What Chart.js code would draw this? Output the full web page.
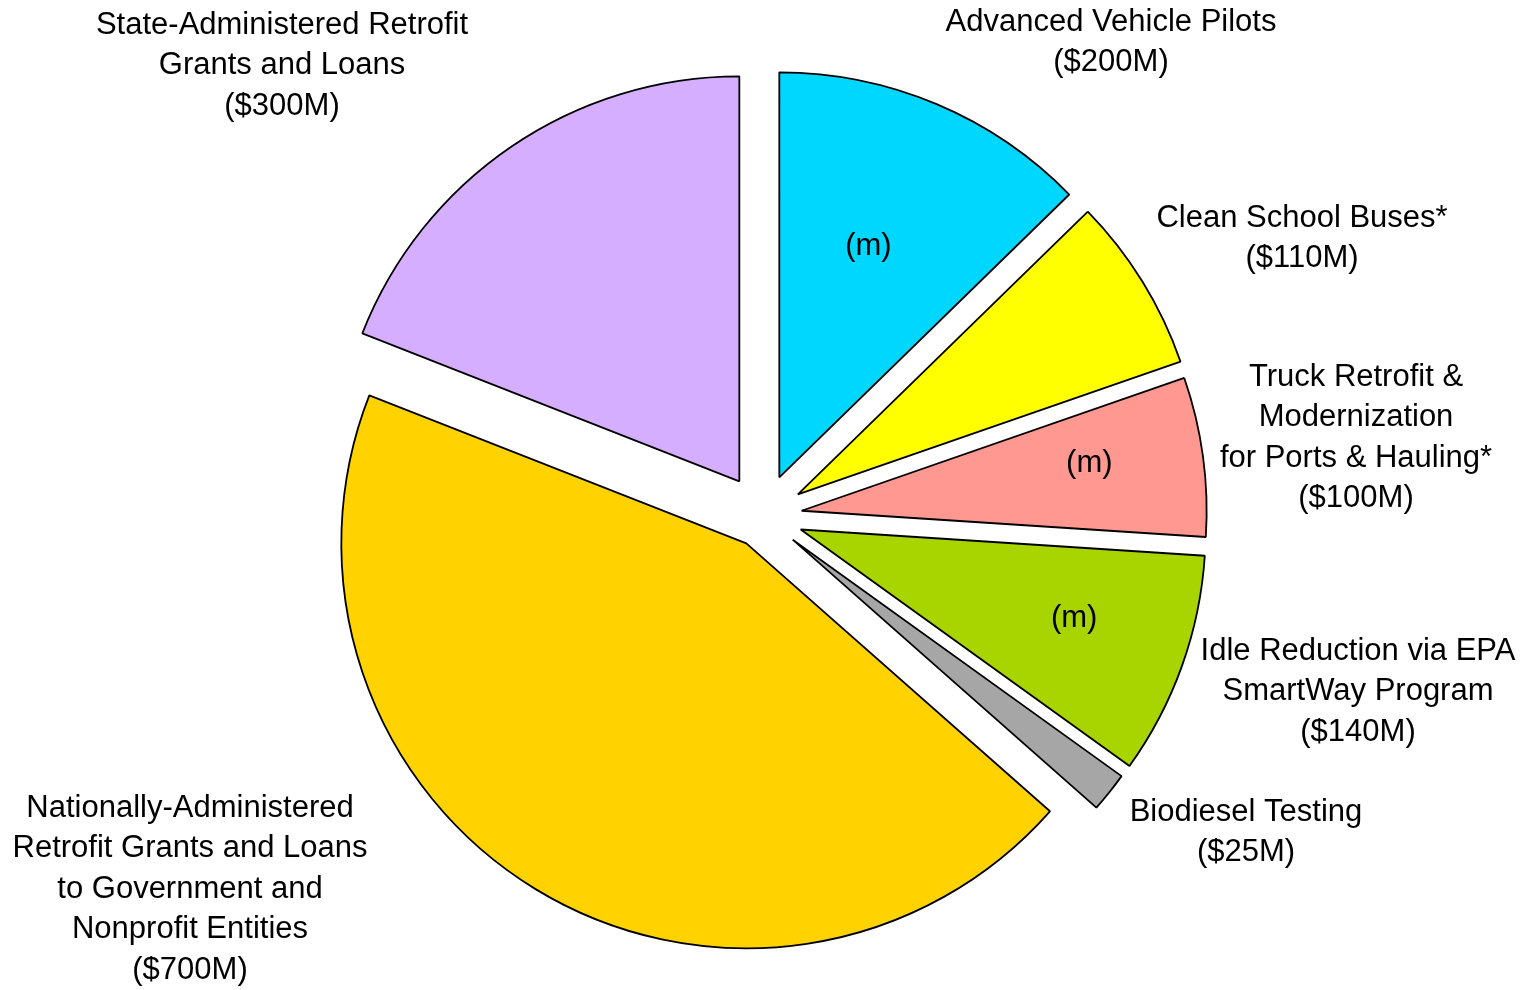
<!DOCTYPE html>
<html>
<head>
<meta charset="utf-8">
<title>Funding pie</title>
<script src="https://cdn.jsdelivr.net/npm/chart.js@4.4.1/dist/chart.umd.min.js"></script>
<style>
    html, body { margin: 0; padding: 0; background: #fff; }
    #wrap { width: 1530px; height: 990px; position: relative; }
</style>
</head>
<body>
<div id="wrap"><canvas id="myChart"></canvas></div>
<script>
// data
var categories = [
    ['Advanced Vehicle Pilots'],
    ['Clean School Buses*'],
    ['Truck Retrofit &', 'Modernization', 'for Ports & Hauling*'],
    ['Idle Reduction via EPA', 'SmartWay Program'],
    ['Biodiesel Testing'],
    ['Nationally-Administered', 'Retrofit Grants and Loans', 'to Government and', 'Nonprofit Entities'],
    ['State-Administered Retrofit', 'Grants and Loans']
];
var amounts = [200, 110, 100, 140, 25, 700, 300];   // $M
var markers = ['(m)', '', '(m)', '(m)', '', '', ''];

// styles
var colors = ['#00D7FF', '#FFFF00', '#FF9891', '#A8D400', '#A6A6A6', '#FFD200', '#D5AEFF'];
var explode = [42, 41, 39, 40, 38, 32, 42];
// label anchor (first line centre) relative to the pie centre
var labelOffsets = [[348, -494], [539, -298], [593, -139], [595, 135], [483, 296], [-573, 292], [-481, -491]];
// how far along the slice radius the "(m)" marks sit
var markerDepth = [0.61, 0, 0.72, 0.71, 0, 0, 0];

var FONT = '31px "Liberation Sans", Arial, sans-serif';
var LINE_H = 40.5;

var explodePlugin = {
    id: 'explode',
    afterDatasetsUpdate: function (chart) {
        var meta = chart.getDatasetMeta(0);
        meta.data.forEach(function (arc, i) {
            var mid = (arc.startAngle + arc.endAngle) / 2;
            arc.x += Math.cos(mid) * explode[i];
            arc.y += Math.sin(mid) * explode[i];
        });
    }
};

var labelPlugin = {
    id: 'sliceLabels',
    afterDraw: function (chart) {
        var ctx = chart.ctx;
        var area = chart.chartArea;
        var cx = (area.left + area.right) / 2;
        var cy = (area.top + area.bottom) / 2;
        var meta = chart.getDatasetMeta(0);
        ctx.save();
        ctx.font = FONT;
        ctx.fillStyle = '#000';
        ctx.textAlign = 'center';
        ctx.textBaseline = 'middle';
        categories.forEach(function (lines, i) {
            var all = lines.concat(['($' + amounts[i] + 'M)']);
            var x = cx + labelOffsets[i][0];
            var y = cy + labelOffsets[i][1];
            all.forEach(function (t, k) {
                ctx.fillText(t, x, y + k * LINE_H);
            });
            if (markers[i]) {
                var arc = meta.data[i];
                var mid = (arc.startAngle + arc.endAngle) / 2 - 0.03;
                var r = arc.outerRadius * markerDepth[i];
                ctx.fillText(markers[i], arc.x + Math.cos(mid) * r, arc.y + Math.sin(mid) * r);
            }
        });
        ctx.restore();
    }
};

document.addEventListener('DOMContentLoaded', function () {
    var ctx = document.getElementById('myChart').getContext('2d');
    var myChart = new Chart(ctx, {
        type: 'pie',
        data: {
            labels: categories.map(function (c) { return c.join(' '); }),
            datasets: [{
                data: amounts,
                backgroundColor: colors,
                borderColor: '#000000',
                borderWidth: 1.8
            }]
        },
        options: {
            responsive: true,
            maintainAspectRatio: false,
            animation: false,
            events: [],
            radius: 405,
            layout: {
                padding: { top: 42, right: 4, bottom: 0, left: 0 }
            },
            plugins: {
                legend: { display: false },
                tooltip: { enabled: false }
            }
        },
        plugins: [explodePlugin, labelPlugin]
    });
});
</script>
</body>
</html>
